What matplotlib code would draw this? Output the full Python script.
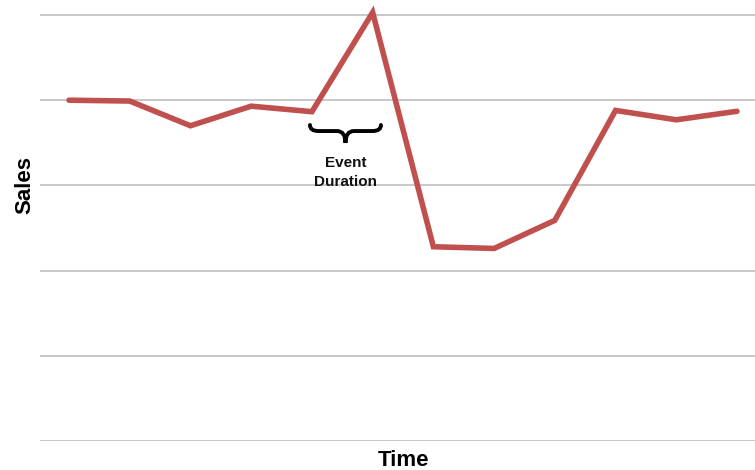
import matplotlib
matplotlib.use("Agg")
import matplotlib.pyplot as plt
from matplotlib.path import Path
from matplotlib.patches import PathPatch

# Sales per period
periods = [1, 2, 3, 4, 5, 6, 7, 8, 9, 10, 11, 12]
sales = [4.00, 3.99, 3.70, 3.93, 3.865, 5.03, 2.28, 2.26, 2.59, 3.88, 3.77, 3.87]
grid_levels = [0, 1, 2, 3, 4, 5]
event_label = "Event\nDuration"
event_start, event_end = 5, 6

plt.rcParams['font.family'] = ['Liberation Sans', 'DejaVu Sans']

fig = plt.figure(figsize=(7.55, 4.70), dpi=100)
ax = fig.add_axes([40 / 755, 29 / 470, 715 / 755, 441 / 470])

ax.set_xlim(0.5225, 12.296)
ax.set_ylim(0, 5.176)

for lvl in grid_levels:
    ax.axhline(lvl, color='#c4c4c4', lw=1.3, zorder=1)

ax.plot(periods, sales, color='#c0504d', lw=4.0, solid_capstyle='round',
        solid_joinstyle='miter', zorder=3)

# curly brace under the event window
x0 = event_start - 0.032
x1 = event_end + 0.137
xm = (x0 + x1) / 2
y_top, y_bar, y_tip = 3.709, 3.638, 3.498
a = 0.14
verts = [
    (x0, y_top), (x0, y_bar), (x0 + a, y_bar),
    (xm - a, y_bar),
    (xm, y_bar), (xm, y_tip),
    (xm, y_bar), (xm + a, y_bar),
    (x1 - a, y_bar),
    (x1, y_bar), (x1, y_top),
]
codes = [Path.MOVETO, Path.CURVE3, Path.CURVE3, Path.LINETO,
         Path.CURVE3, Path.CURVE3, Path.CURVE3, Path.CURVE3,
         Path.LINETO, Path.CURVE3, Path.CURVE3]
ax.add_patch(PathPatch(Path(verts, codes), fill=False, ec='black', lw=2.8,
                       capstyle='round', zorder=4))

ax.text(xm, 3.15, event_label, ha='center', va='center', fontsize=11,
        fontweight='bold', color='#111111', linespacing=1.4, zorder=4)

ax.set_xticks([])
ax.set_yticks([])
for s in ax.spines.values():
    s.set_visible(False)

fig.text(25 / 755, 1 - 185 / 470, "Sales", rotation=90, ha='center', va='center',
         fontsize=16, fontweight='bold', color='black')
fig.text(403 / 755, 1 - 460 / 470, "Time", ha='center', va='center',
         fontsize=16, fontweight='bold', color='black')

fig.savefig("out.png", dpi=100, facecolor='white')
